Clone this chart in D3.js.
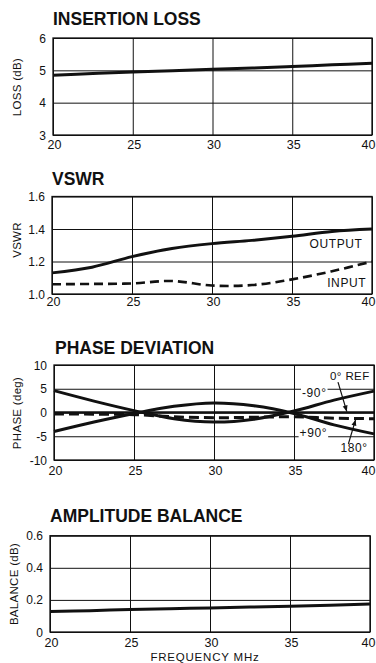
<!DOCTYPE html>
<html>
<head>
<meta charset="utf-8">
<script src="https://cdn.jsdelivr.net/npm/d3@7"></script>
<style>
  html, body { margin: 0; padding: 0; background: #fff; }
  svg { display: block; font-family: "Liberation Sans", Arial, Helvetica, sans-serif; }
</style>
</head>
<body>
<svg id="chart" width="376" height="663"></svg>
<script>
// Frequency axis shared by all four panels (MHz)
const freqTicks = [20, 25, 30, 35, 40];
const freqSamples = [20, 22.5, 25, 27.5, 30, 32.5, 35, 37.5, 40];

// Insertion loss (dB)
const lossTicks = [3, 4, 5, 6];
const lossValues = [4.85, 4.90, 4.95, 4.99, 5.03, 5.07, 5.12, 5.17, 5.22];

// VSWR
const vswrTicks = [1.0, 1.2, 1.4, 1.6];
const vswrOutput = [1.13, 1.165, 1.23, 1.28, 1.31, 1.33, 1.355, 1.385, 1.40];
const vswrInput  = [1.06, 1.062, 1.065, 1.08, 1.052, 1.055, 1.09, 1.14, 1.20];

// Phase deviation (deg) per output port
const phaseTicks = [-10, -5, 0, 5, 10];
const phaseRef   = [0, 0, 0, 0, 0, 0, 0, 0, 0];
const phaseM90   = [4.6, 2.4, 0.4, -1.3, -2.0, -1.4, 0.3, 2.6, 4.5];
const phaseP90   = [-4.0, -2.0, -0.2, 1.3, 2.0, 1.4, -0.2, -2.6, -4.5];
const phase180   = [-0.3, -0.35, -0.45, -0.9, -1.1, -1.0, -0.9, -1.2, -1.3];

// Amplitude balance (dB)
const balanceTicks = [0, 0.2, 0.4, 0.6];
const balanceValues = [0.128, 0.133, 0.14, 0.145, 0.15, 0.155, 0.16, 0.167, 0.175];

const W = 376;
const svg = d3.select("#chart");

// Draws one framed panel with grid, tick labels, title and y-axis label
function panel(cfg) {
  const x = d3.scaleLinear().domain([20, 40]).range([cfg.left, cfg.right]);
  const y = d3.scaleLinear().domain(cfg.domain).range([cfg.bottom, cfg.top]);
  const g = svg.append("g");

  g.append("text")
    .attr("x", cfg.titleX).attr("y", cfg.titleY)
    .attr("font-size", 17.5).attr("font-weight", "bold")
    .attr("fill", "#111")
    .text(cfg.title);

  // vertical grid lines via axis ticks
  g.append("g")
    .attr("transform", `translate(0,${cfg.bottom})`)
    .call(d3.axisBottom(x).tickValues(freqTicks).tickSize(-(cfg.bottom - cfg.top)).tickFormat(""))
    .call(a => a.select(".domain").remove())
    .call(a => a.selectAll("line").attr("stroke", "#111").attr("stroke-width", 1));

  // horizontal grid lines
  g.append("g")
    .attr("transform", `translate(${cfg.left},0)`)
    .call(d3.axisLeft(y).tickValues(cfg.ticks).tickSize(-(cfg.right - cfg.left)).tickFormat(""))
    .call(a => a.select(".domain").remove())
    .call(a => a.selectAll("line").attr("stroke", "#111").attr("stroke-width", 1));

  // frame
  g.append("rect")
    .attr("x", cfg.left).attr("y", cfg.top)
    .attr("width", cfg.right - cfg.left).attr("height", cfg.bottom - cfg.top)
    .attr("fill", "none").attr("stroke", "#111").attr("stroke-width", 1.3);

  // x tick labels (last one kept inside the page edge)
  g.selectAll(".xl").data(freqTicks).join("text")
    .attr("x", d => Math.min(x(d) + 1.5, W - 7.5)).attr("y", cfg.bottom + cfg.xlabDy)
    .attr("text-anchor", "middle").attr("font-size", 12.5).attr("fill", "#111")
    .text(d => d);

  // y tick labels
  g.selectAll(".yl").data(cfg.ticks).join("text")
    .attr("x", cfg.left - 7).attr("y", d => y(d) + 4.5)
    .attr("text-anchor", "end").attr("font-size", 12).attr("fill", "#111")
    .text(cfg.fmt);

  // y-axis label
  g.append("text")
    .attr("transform", `translate(${cfg.ylabX},${cfg.ylabY}) rotate(-90)`)
    .attr("text-anchor", "middle").attr("font-size", 11.5).attr("fill", "#111")
    .attr("letter-spacing", 0.3)
    .text(cfg.ylabel);

  return { g, x, y };
}

function curve(p, values, opts) {
  const line = d3.line()
    .x((d, i) => p.x(freqSamples[i]))
    .y(d => p.y(d))
    .curve(d3.curveCatmullRom.alpha(0.5));
  p.g.append("path")
    .datum(values)
    .attr("d", line)
    .attr("fill", "none")
    .attr("stroke", "#111")
    .attr("stroke-width", opts.width || 3)
    .attr("stroke-dasharray", opts.dash || null)
    .attr("stroke-linecap", "butt");
}

function label(p, text, xv, yv, opts = {}) {
  const t = p.g.append("text")
    .attr("x", p.x(xv)).attr("y", p.y(yv))
    .attr("font-size", opts.size || 12).attr("fill", "#111")
    .attr("letter-spacing", opts.ls != null ? opts.ls : 0.6)
    .text(text);
  if (opts.bg) {
    const b = t.node().getBBox();
    p.g.insert("rect", () => t.node())
      .attr("x", b.x - 1).attr("y", b.y + 1).attr("width", b.width + 2).attr("height", b.height - 2)
      .attr("fill", "#fff");
  }
  return t;
}

function arrow(p, x1, y1, x2, y2) {
  const ax1 = p.x(x1), ay1 = p.y(y1), ax2 = p.x(x2), ay2 = p.y(y2);
  p.g.append("line")
    .attr("x1", ax1).attr("y1", ay1).attr("x2", ax2).attr("y2", ay2)
    .attr("stroke", "#111").attr("stroke-width", 1.2);
  const ang = Math.atan2(ay2 - ay1, ax2 - ax1);
  const L = 6, Wd = 2.5;
  const bx = ax2 - L * Math.cos(ang), by = ay2 - L * Math.sin(ang);
  p.g.append("path")
    .attr("d", `M${ax2},${ay2} L${bx + Wd * Math.sin(ang)},${by - Wd * Math.cos(ang)} L${bx - Wd * Math.sin(ang)},${by + Wd * Math.cos(ang)} Z`)
    .attr("fill", "#111");
}

// INSERTION LOSS
const p1 = panel({
  title: "INSERTION LOSS", titleX: 53, titleY: 25,
  left: 53, right: 372, top: 38, bottom: 135, xlabDy: 13.5,
  domain: [3, 6], ticks: lossTicks, fmt: d => d,
  ylabel: "LOSS (dB)", ylabX: 21, ylabY: 87
});
curve(p1, lossValues, { width: 3 });

// VSWR
const p2 = panel({
  title: "VSWR", titleX: 52, titleY: 185,
  left: 52, right: 372, top: 196.5, bottom: 294, xlabDy: 11.5,
  domain: [1.0, 1.6], ticks: vswrTicks, fmt: d3.format(".1f"),
  ylabel: "VSWR", ylabX: 21, ylabY: 240
});
curve(p2, vswrOutput, { width: 3 });
curve(p2, vswrInput, { width: 2.6, dash: "9,5" });
label(p2, "OUTPUT", 36.1, 1.285);
label(p2, "INPUT", 37.2, 1.045);

// PHASE DEVIATION
const p3 = panel({
  title: "PHASE DEVIATION", titleX: 55, titleY: 354,
  left: 54, right: 374, top: 365, bottom: 460, xlabDy: 15,
  domain: [-10, 10], ticks: phaseTicks, fmt: d => d,
  ylabel: "PHASE (deg)", ylabX: 21, ylabY: 413
});
curve(p3, phaseRef, { width: 2.4 });
curve(p3, phase180, { width: 3, dash: "10,5" });
curve(p3, phaseM90, { width: 3 });
curve(p3, phaseP90, { width: 3 });
label(p3, "0° REF", 37.25, 6.85, { size: 11.5, ls: 0.4 });
label(p3, "-90°", 35.5, 3.3, { bg: true });
label(p3, "+90°", 35.35, -5.2, { bg: true });
label(p3, "180°", 37.9, -8.25);
arrow(p3, 37.75, 6.4, 38.3, 0.2);
arrow(p3, 38.4, -6.6, 38.85, -1.5);

// AMPLITUDE BALANCE
const p4 = panel({
  title: "AMPLITUDE BALANCE", titleX: 50, titleY: 522,
  left: 50, right: 370, top: 535.7, bottom: 632, xlabDy: 15,
  domain: [0, 0.6], ticks: balanceTicks, fmt: d => d === 0 ? "0" : d3.format(".1f")(d),
  ylabel: "BALANCE (dB)", ylabX: 18, ylabY: 584
});
curve(p4, balanceValues, { width: 3 });

svg.append("text")
  .attr("x", 205).attr("y", 661)
  .attr("text-anchor", "middle").attr("font-size", 11.5).attr("fill", "#111")
  .attr("letter-spacing", 0.8)
  .text("FREQUENCY MHz");
</script>
</body>
</html>
